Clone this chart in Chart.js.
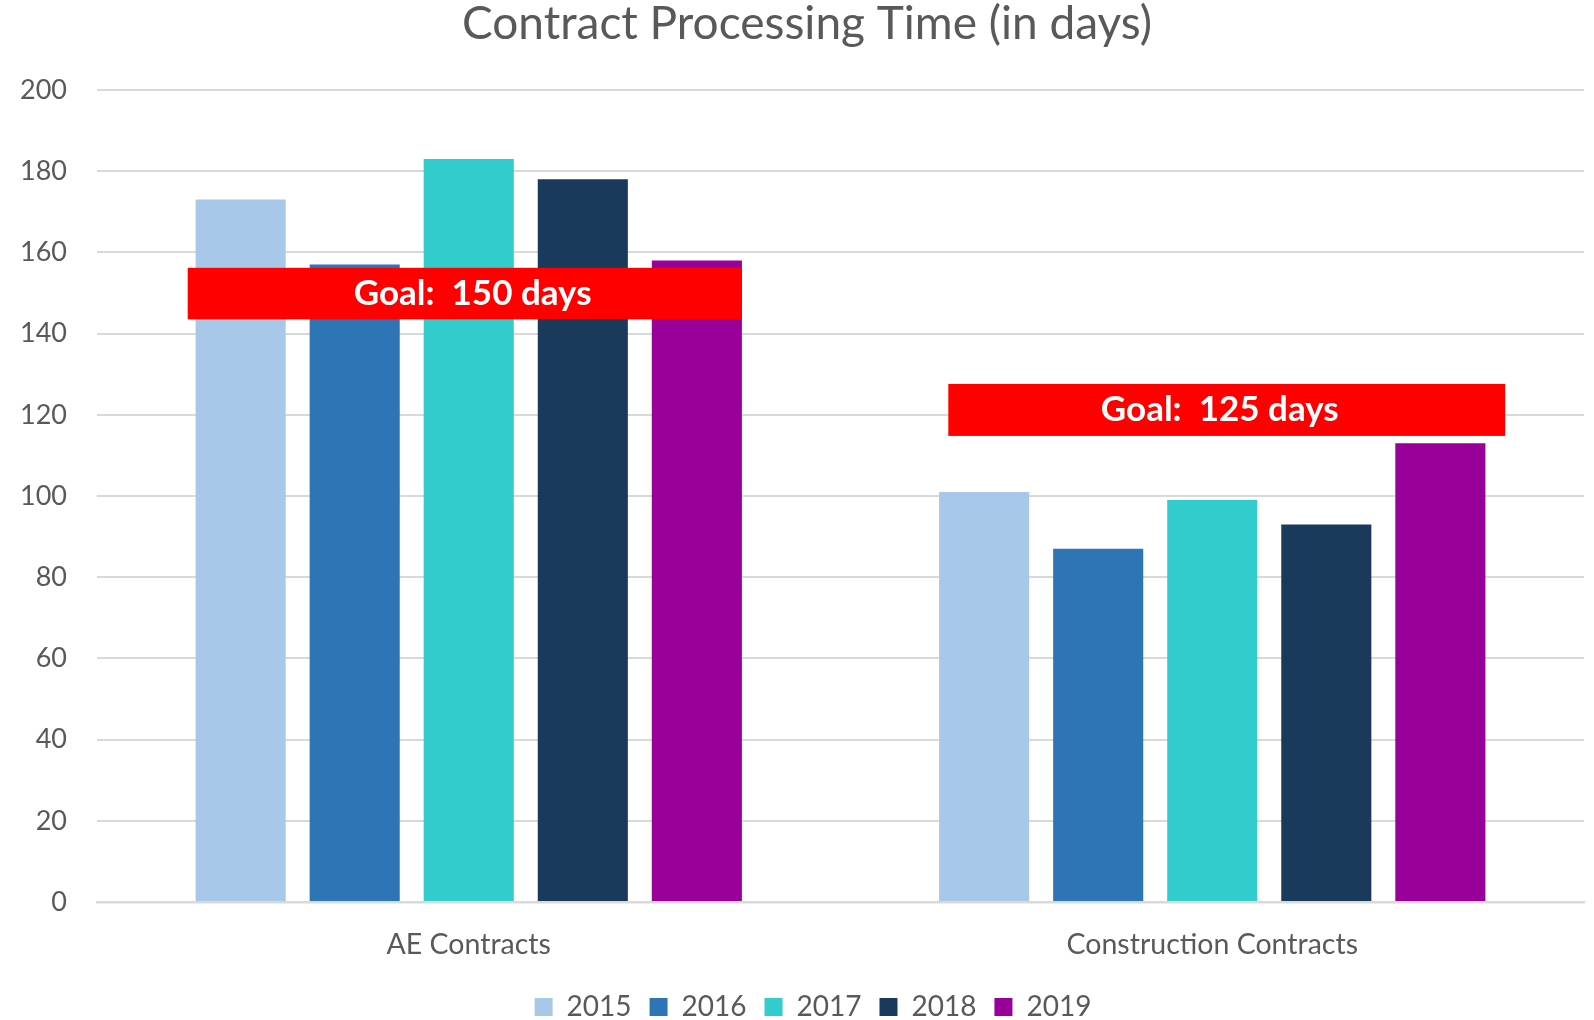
<!DOCTYPE html>
<html>
<head>
<meta charset="utf-8">
<script src="https://cdn.jsdelivr.net/npm/chart.js@4"></script>
<style>
  html, body { margin: 0; padding: 0; background: #fff; }
  #wrap { width: 1594px; height: 1020px; }
</style>
</head>
<body>
<div id="wrap"><canvas id="chart" width="1594" height="1020"></canvas></div>
<script>
const chartTitle = "Contract Processing Time (in days)"
const categories = ["AE Contracts", "Construction Contracts"]
const years = ["2015", "2016", "2017", "2018", "2019"]
const values2015 = [173, 101]
const values2016 = [157, 87]
const values2017 = [183, 99]
const values2018 = [178, 93]
const values2019 = [158, 113]
const yearColors = ["#a7c8e8", "#2e75b6", "#33cccc", "#1a3a5c", "#990099"]

// goal banners: label, and the value range the red box covers
const goalLabels = ["Goal:  150 days", "Goal:  125 days"]
const goalTop = [156.2, 127.6]
const goalBottom = [143.5, 114.8]

const series = [values2015, values2016, values2017, values2018, values2019]
const textColor = "#595959"
const font = "Lato"

// draws the red goal boxes over the bars, placed with the chart's own scales
const goalBanners = {
  id: "goalBanners",
  afterDatasetsDraw(chart, args, opts) {
    const {ctx, scales: {x, y}} = chart
    const catWidth = x.getPixelForValue(1) - x.getPixelForValue(0)
    goalLabels.forEach((label, i) => {
      const center = x.getPixelForValue(i)
      const left = center + opts.from[i] * catWidth
      const right = center + opts.to[i] * catWidth
      const top = y.getPixelForValue(goalTop[i])
      const bottom = y.getPixelForValue(goalBottom[i])
      ctx.save()
      ctx.fillStyle = "#ff0000"
      ctx.fillRect(left, top, right - left, bottom - top)
      ctx.fillStyle = "#ffffff"
      ctx.font = "bold 35px " + font
      ctx.textAlign = "center"
      ctx.textBaseline = "middle"
      ctx.fillText(label, (left + right) / 2 + opts.textShift[i], (top + bottom) / 2)
      ctx.restore()
    })
  }
}

// title and legend sit a bit right of the canvas centre in the original
const titlePlugin = {
  id: "titlePlugin",
  afterLayout(chart, args, opts) {
    chart.legend.left += opts.legendShift
    chart.legend.right += opts.legendShift
  },
  afterDraw(chart, args, opts) {
    const ctx = chart.ctx
    ctx.save()
    ctx.fillStyle = textColor
    ctx.font = "46px " + font
    ctx.textAlign = "center"
    ctx.textBaseline = "alphabetic"
    ctx.fillText(chartTitle, opts.x, opts.y)
    ctx.restore()
  }
}

const chart = new Chart("chart", {
  type: "bar",
  data: {
    labels: categories,
    datasets: years.map((year, i) => ({
      label: year,
      data: series[i],
      backgroundColor: yearColors[i],
      categoryPercentage: 0.767,
      barPercentage: 0.79,
    }))
  },
  options: {
    responsive: false,
    animation: false,
    layout: {padding: {left: 0, right: 10, top: 90, bottom: -11}},
    plugins: {
      title: {display: false},
      titlePlugin: {x: 807, y: 39, legendShift: 21},
      legend: {
        position: "bottom",
        labels: {
          color: textColor,
          font: {family: font, size: 28},
          boxWidth: 18,
          boxHeight: 18,
          padding: 18,
        }
      },
      tooltip: {enabled: false},
      goalBanners: {
        from: [-0.378, -0.355],
        to: [0.367, 0.394],
        textShift: [8, -7],
      }
    },
    scales: {
      x: {
        grid: {display: false},
        border: {display: true, color: "#d9d9d9", width: 2.5},
        ticks: {color: textColor, font: {family: font, size: 28.5}, padding: 18},
        afterFit: scale => { scale.height = 73 }
      },
      y: {
        min: 0,
        max: 200,
        ticks: {stepSize: 20, color: textColor, font: {family: font, size: 27}, padding: 30},
        grid: {color: "#d9d9d9", lineWidth: 2, drawTicks: false},
        border: {display: false},
        afterFit: scale => { scale.width = 97 }
      }
    }
  },
  plugins: [goalBanners, titlePlugin]
})
</script>
</body>
</html>
